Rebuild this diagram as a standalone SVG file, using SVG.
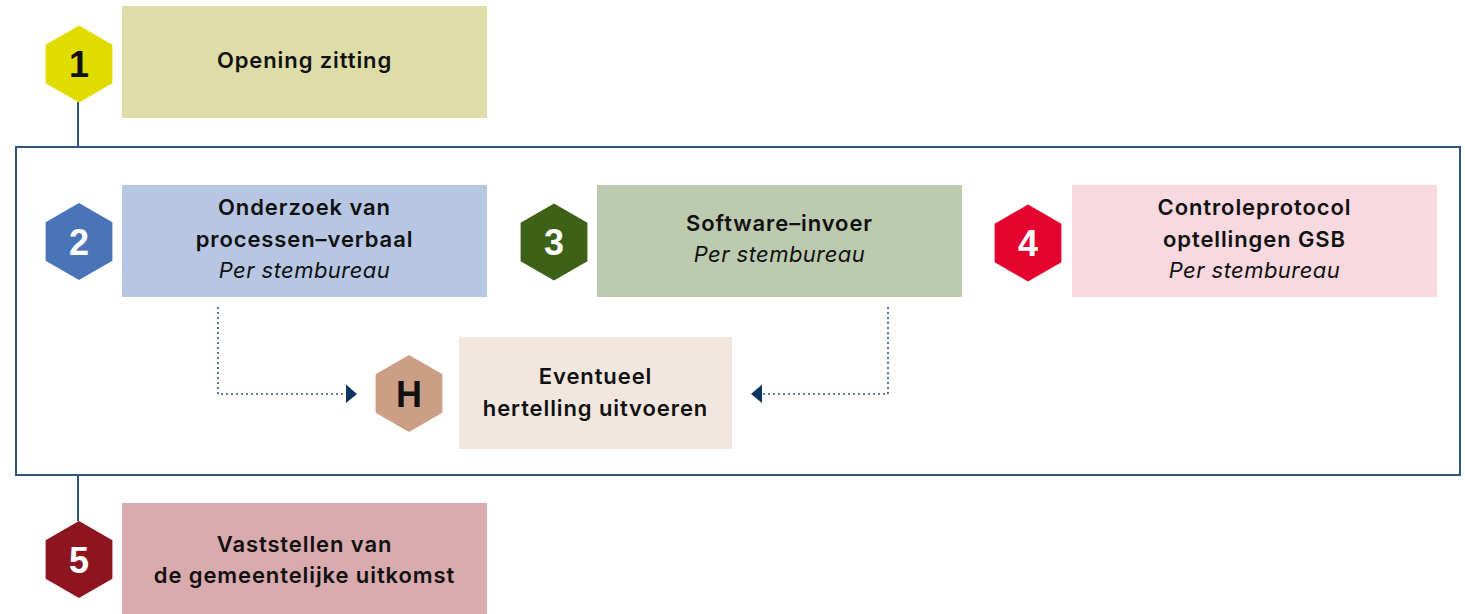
<svg xmlns="http://www.w3.org/2000/svg" width="1465" height="614" viewBox="0 0 1465 614">
<style>
  .t{font-family:Inter,"DejaVu Sans",sans-serif;font-size:22px;font-weight:600;letter-spacing:0.9px;fill:#111;text-anchor:middle}
  .i{font-family:Inter,"DejaVu Sans",sans-serif;font-size:22px;font-style:italic;font-weight:400;letter-spacing:0.45px;fill:#111;text-anchor:middle}
  .n{font-family:"Liberation Sans",Arial,sans-serif;font-size:36px;font-weight:700;text-anchor:middle}
  .line{stroke:#2e5580;stroke-width:2;fill:none}
  .dot{stroke:#2e5580;stroke-width:1.6;fill:none;stroke-dasharray:2 3}
</style>
<defs>
  <polygon id="hex" points="0,-38.5 33.4,-19.25 33.4,19.25 0,38.5 -33.4,19.25 -33.4,-19.25"/>
</defs>
<g id="connectors">
  <rect x="16" y="147" width="1444" height="328" class="line"/>
  <line x1="78" y1="102" x2="78" y2="147" class="line"/>
  <line x1="78" y1="475" x2="78" y2="521" class="line"/>
  <polyline points="218,307 218,394 346,394" class="dot"/>
  <polygon points="346,384.5 357,394 346,403" fill="#0d3562"/>
  <polyline points="888,307 888,394 762,394" class="dot"/>
  <polygon points="762,384.5 751,394 762,403" fill="#0d3562"/>
</g>
<g id="node1">
  <rect x="122" y="6" width="365" height="112" fill="#dedda8"/>
  <use href="#hex" x="79" y="64" fill="#e0dc00"/>
  <text x="79" y="77" class="n" fill="#111">1</text>
  <text x="304.5" y="68" class="t">Opening zitting</text>
</g>
<g id="node2">
  <rect x="122" y="185" width="365" height="112" fill="#b7c7e3"/>
  <use href="#hex" x="79" y="241.5" fill="#4a74b8"/>
  <text x="79" y="254.5" class="n" fill="#fff">2</text>
  <text x="304.5" y="215" class="t">Onderzoek van</text>
  <text x="304.5" y="247" class="t">processen–verbaal</text>
  <text x="304.5" y="278" class="i">Per stembureau</text>
</g>
<g id="node3">
  <rect x="597" y="185" width="365" height="112" fill="#bccab0"/>
  <use href="#hex" x="554" y="242" fill="#3d6117"/>
  <text x="554" y="255" class="n" fill="#fff">3</text>
  <text x="779.5" y="231" class="t">Software–invoer</text>
  <text x="779.5" y="262" class="i">Per stembureau</text>
</g>
<g id="node4">
  <rect x="1072" y="185" width="365" height="112" fill="#f8d9df"/>
  <use href="#hex" x="1028" y="243" fill="#e4032e"/>
  <text x="1028" y="256" class="n" fill="#fff">4</text>
  <text x="1254.5" y="215" class="t">Controleprotocol</text>
  <text x="1254.5" y="247" class="t">optellingen GSB</text>
  <text x="1254.5" y="278" class="i">Per stembureau</text>
</g>
<g id="nodeH">
  <rect x="459" y="337" width="273" height="112" fill="#f2e7df"/>
  <use href="#hex" x="409" y="393.5" fill="#cc9e86"/>
  <text x="409" y="406.5" class="n" fill="#111">H</text>
  <text x="595.5" y="384" class="t">Eventueel</text>
  <text x="595.5" y="416" class="t">hertelling uitvoeren</text>
</g>
<g id="node5">
  <rect x="122" y="503" width="365" height="111" fill="#d9aaae"/>
  <use href="#hex" x="79" y="559.5" fill="#8e1520"/>
  <text x="79" y="572.5" class="n" fill="#fff">5</text>
  <text x="304.5" y="552" class="t">Vaststellen van</text>
  <text x="304.5" y="583" class="t">de gemeentelijke uitkomst</text>
</g>
</svg>
